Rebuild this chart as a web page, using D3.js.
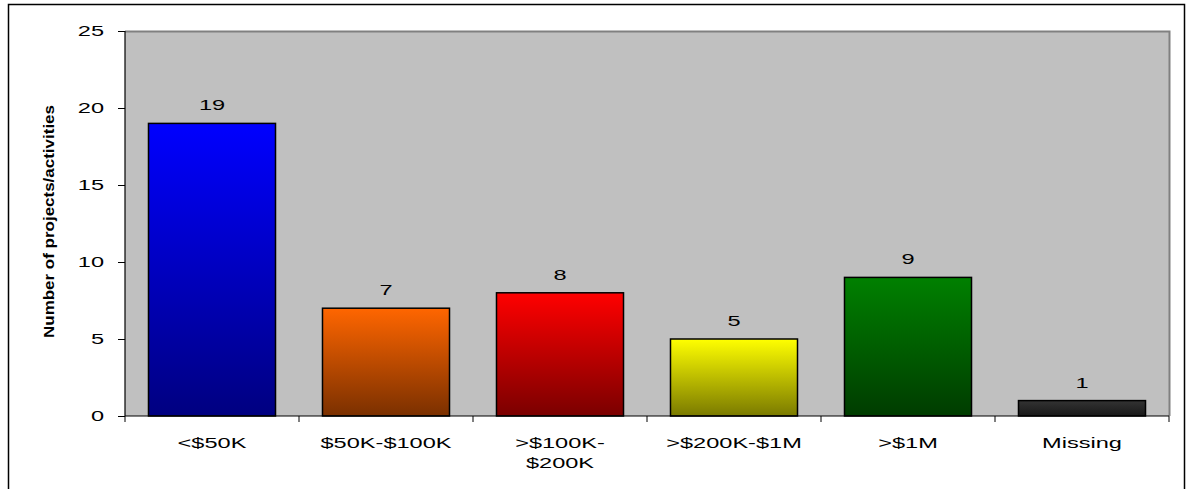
<!DOCTYPE html>
<html><head><meta charset="utf-8">
<script src="https://cdn.jsdelivr.net/npm/d3@7"></script>
<style>body{margin:0;background:#fff}svg{display:block}text{font-family:"Liberation Sans",Arial,sans-serif}</style>
</head><body>
<svg id="c" width="1188" height="489"></svg>
<script>
const categories = [["<$50K"], ["$50K-$100K"], [">$100K-", "$200K"], [">$200K-$1M"], [">$1M"], ["Missing"]];
const values = [19, 7, 8, 5, 9, 1];
const topColors = ["#0000FF", "#FF6600", "#FF0000", "#FFFF00", "#008000", "#333333"];
const bottomColors = ["#000080", "#7A3000", "#7A0000", "#7A7A00", "#003C00", "#181818"];
const yTicks = [0, 5, 10, 15, 20, 25];
const yTitle = "Number of projects/activities";

const SX = 1.52, FS = 15.5;
const svg = d3.select("#c");
svg.append("rect").attr("x", 8.5).attr("y", 4.5).attr("width", 1176).attr("height", 500)
  .attr("fill", "#fff").attr("stroke", "#000").attr("stroke-width", 1.5);

const L = 125, R = 1169, T = 31, B = 416;
const keys = categories.map((c, i) => i);
const x = d3.scaleBand().domain(keys).range([L, R]).paddingInner(0.27).paddingOuter(0.135);
const xb = d3.scaleBand().domain(keys).range([L, R]);
const y = d3.scaleLinear().domain([0, 25]).range([B, T]);

svg.append("rect").attr("x", L).attr("y", T).attr("width", R - L).attr("height", B - T)
  .attr("fill", "#C0C0C0");
svg.append("path").attr("d", `M${L},${T}.5H${R}.5V${B}`).attr("fill", "none").attr("stroke", "#808080").attr("stroke-width", 2);

const defs = svg.append("defs");
values.forEach((v, i) => {
  const g = defs.append("linearGradient").attr("id", "g" + i).attr("x1", 0).attr("y1", 0).attr("x2", 0).attr("y2", 1);
  g.append("stop").attr("offset", 0).attr("stop-color", topColors[i]);
  g.append("stop").attr("offset", 1).attr("stop-color", bottomColors[i]);
});

svg.selectAll("rect.bar").data(values).join("rect").attr("class", "bar")
  .attr("x", (d, i) => x(i)).attr("width", x.bandwidth())
  .attr("y", d => y(d)).attr("height", d => B - y(d))
  .attr("fill", (d, i) => `url(#g${i})`).attr("stroke", "#000").attr("stroke-width", 1.5);

svg.selectAll("text.val").data(values).join("text").attr("class", "val")
  .attr("transform", (d, i) => `translate(${x(i) + x.bandwidth() / 2},${y(d) - 13}) scale(${SX},1)`)
  .attr("text-anchor", "middle").attr("font-size", FS).attr("fill", "#000").text(d => d);

// Y axis
const ya = svg.append("g").attr("transform", `translate(${L},0)`)
  .call(d3.axisLeft(y).tickValues(yTicks).tickSize(7));
ya.select(".domain").attr("stroke", "#000").attr("stroke-width", 1.2).attr("d", `M-0,${B}V${T}`);
ya.selectAll(".tick line").attr("stroke", "#000");
ya.selectAll(".tick text").attr("x", 0).attr("transform", `translate(-21,0) scale(${SX},1)`)
  .attr("font-size", FS).attr("fill", "#000").attr("font-family", "Liberation Sans, Arial, sans-serif");

// X axis
const xa = svg.append("g").attr("transform", `translate(0,${B})`);
xa.append("line").attr("x1", L).attr("x2", R).attr("stroke", "#000").attr("stroke-width", 1.2);
const bounds = keys.map(k => xb(k)).concat([R]);
xa.selectAll("line.tk").data(bounds).join("line").attr("class", "tk")
  .attr("x1", d => d).attr("x2", d => d).attr("y1", 0).attr("y2", 6).attr("stroke", "#000");
const xl = xa.selectAll("text.cat").data(categories).join("text").attr("class", "cat")
  .attr("transform", (d, i) => `translate(${xb(i) + xb.bandwidth() / 2},32) scale(${SX},1)`)
  .attr("text-anchor", "middle").attr("font-size", FS).attr("fill", "#000");
xl.selectAll("tspan").data(d => d).join("tspan")
  .attr("x", 0).attr("dy", (d, j) => j === 0 ? 0 : 20).text(d => d);

svg.append("text").attr("transform", `translate(54,${221.5}) rotate(-90)`)
  .attr("text-anchor", "middle").attr("font-size", 14).attr("font-weight", "bold")
  .attr("textLength", 233).attr("lengthAdjust", "spacingAndGlyphs")
  .attr("fill", "#000").text(yTitle);
</script>
</body></html>
